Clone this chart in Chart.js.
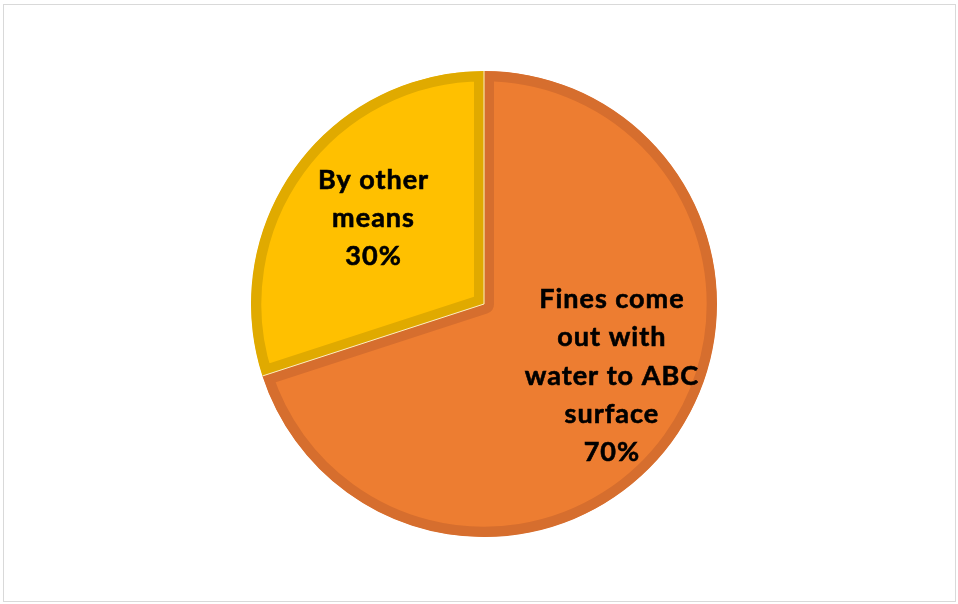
<!DOCTYPE html>
<html>
<head>
<meta charset="utf-8">
<script src="https://cdn.jsdelivr.net/npm/chart.js@4"></script>
<style>
  html, body { margin: 0; padding: 0; background: #fff; }
  #frame {
    position: absolute; left: 3px; top: 4px; width: 953px; height: 598px;
    border: 1px solid #d9d9d9; box-sizing: border-box;
  }
  #wrap { position: absolute; left: 251px; top: 71px; width: 466px; height: 466px; }
</style>
</head>
<body>
<div id="frame"></div>
<div id="wrap"><canvas id="pieChart"></canvas></div>
<script>
// slices, clockwise from 12 o'clock
const categories = ['Fines come out with water to ABC surface', 'By other means'];
const labelLines = [['Fines come', 'out with', 'water to ABC', 'surface'], ['By other', 'means']];
const values = [70, 30];
const fillColors = ['#ED7D31', '#FFC000'];
const edgeColors = ['#D66E2E', '#E0AA00'];

// thin light seam between slices + "name + percent" inside each slice
const sliceLabels = {
  id: 'sliceLabels',
  afterDatasetsDraw(chart, args, opts) {
    const ctx = chart.ctx;
    const meta = chart.getDatasetMeta(0);
    const total = values.reduce((a, b) => a + b, 0);
    ctx.save();
    ctx.strokeStyle = '#FBE9C4';
    ctx.lineWidth = 1;
    meta.data.forEach(arc => {
      const p = arc.getProps(['x', 'y', 'startAngle', 'outerRadius']);
      ctx.beginPath();
      ctx.moveTo(p.x, p.y);
      ctx.lineTo(p.x + Math.cos(p.startAngle) * p.outerRadius, p.y + Math.sin(p.startAngle) * p.outerRadius);
      ctx.stroke();
    });

    ctx.font = 'bold 27px Lato, "Open Sans", sans-serif';
    ctx.letterSpacing = '1px';
    ctx.fillStyle = '#000';
    ctx.strokeStyle = '#000';
    ctx.lineWidth = 0.6;
    ctx.textAlign = 'center';
    ctx.textBaseline = 'middle';
    meta.data.forEach((arc, i) => {
      const p = arc.getProps(['x', 'y', 'startAngle', 'endAngle', 'outerRadius']);
      const mid = (p.startAngle + p.endAngle) / 2 + opts.nudge[i] * Math.PI / 180;
      const r = p.outerRadius * opts.dist[i];
      const cx = p.x + Math.cos(mid) * r;
      const cy = p.y + Math.sin(mid) * r;
      const lines = labelLines[i].concat([Math.round(values[i] / total * 100) + '%']);
      const lh = 38.3;
      lines.forEach((t, k) => {
        const y = cy + (k - (lines.length - 1) / 2) * lh;
        ctx.fillText(t, cx, y);
        ctx.strokeText(t, cx, y);
      });
    });
    ctx.restore();
  }
};

new Chart(document.getElementById('pieChart'), {
  type: 'pie',
  data: {
    labels: categories,
    datasets: [{
      data: values,
      backgroundColor: fillColors,
      borderColor: edgeColors,
      borderWidth: 10,
      borderAlign: 'inner',
      hoverOffset: 0
    }]
  },
  options: {
    responsive: true,
    maintainAspectRatio: false,
    animation: false,
    layout: { padding: 0 },
    plugins: {
      legend: { display: false },
      tooltip: { enabled: false },
      sliceLabels: { dist: [0.63, 0.60], nudge: [-6.6, 1.8] }
    }
  },
  plugins: [sliceLabels]
});
</script>
</body>
</html>
